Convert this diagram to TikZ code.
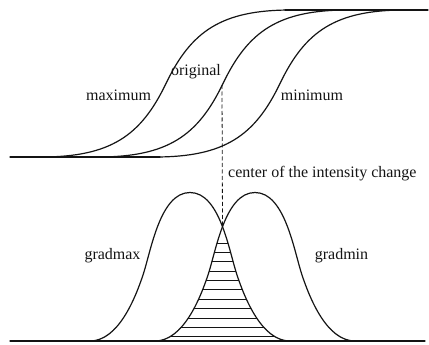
\documentclass[tikz,border=0pt]{standalone}
\usepackage{fontspec}
\setmainfont{Liberation Serif}
\definecolor{ink}{RGB}{20,20,20}
\tikzset{
  curve/.style={draw=ink,line width=1.2pt,line cap=round},
  hatch/.style={draw=ink,line width=0.6pt},
  guide/.style={draw=ink,line width=0.8pt,dash pattern=on 4pt off 2.5pt},
  tag/.style={font=\fontsize{16}{19}\selectfont,text=ink,inner sep=0pt,anchor=base},
  % one intensity edge, centred on its midpoint
  pics/ramp/.style={code={
    \draw[curve] (-125,73.5) .. controls (-55,73.5) and (-25,52) .. (0,0)
      .. controls (25,-52) and (55,-73.5) .. (125,-73.5);
  }},
}
% gradient bump, centred at x=#1 on the lower base line
\newcommand\bump[1]{({#1-100},341) .. controls ({#1-72},341) and ({#1-55},299) .. ({#1-47},275)
  .. controls ({#1-39},251) and ({#1-30},192.5) .. (#1,192.5)
  .. controls ({#1+30},192.5) and ({#1+39},251) .. ({#1+47},275)
  .. controls ({#1+55},299) and ({#1+72},341) .. ({#1+100},341)}

\begin{document}
\begin{tikzpicture}[x=1pt,y=-1pt]
  \useasboundingbox (0,0) rectangle (429,345);
  % edges
  \draw[curve] (10,157) -- (160,157);
  \draw[curve] (285,10) -- (428,10);
  \pic at (166,83.5) {ramp};
  \pic at (223,83.5) {ramp};
  \pic at (280,83.5) {ramp};
  \node[tag] (max) at (118.5,101) {maximum};
  \node[tag] (orig label) at (196,76) {original};
  \node[tag] (min) at (312,101) {minimum};

  % gradients
  \draw[curve] (10,341) -- (425,341);
  \begin{scope}
    \clip \bump{190} -- cycle;
    \clip \bump{255} -- cycle;
    \foreach \k in {0,...,10}
      \draw[hatch] (150,{243+9.35*\k}) -- (300,{243+9.35*\k});
  \end{scope}
  \draw[curve] \bump{190};
  \draw[curve] \bump{255};
  \node[tag] (gmax) at (112.5,259) {gradmax};
  \node[tag] (gmin) at (341.5,259) {gradmin};

  \coordinate (orig) at (222,85);
  \coordinate (cross) at (222.5,227);
  \draw[guide] (orig) -- (cross);
  \node[tag,anchor=base west] (centre) at (228,178) {center of the intensity change};
\end{tikzpicture}
\end{document}
